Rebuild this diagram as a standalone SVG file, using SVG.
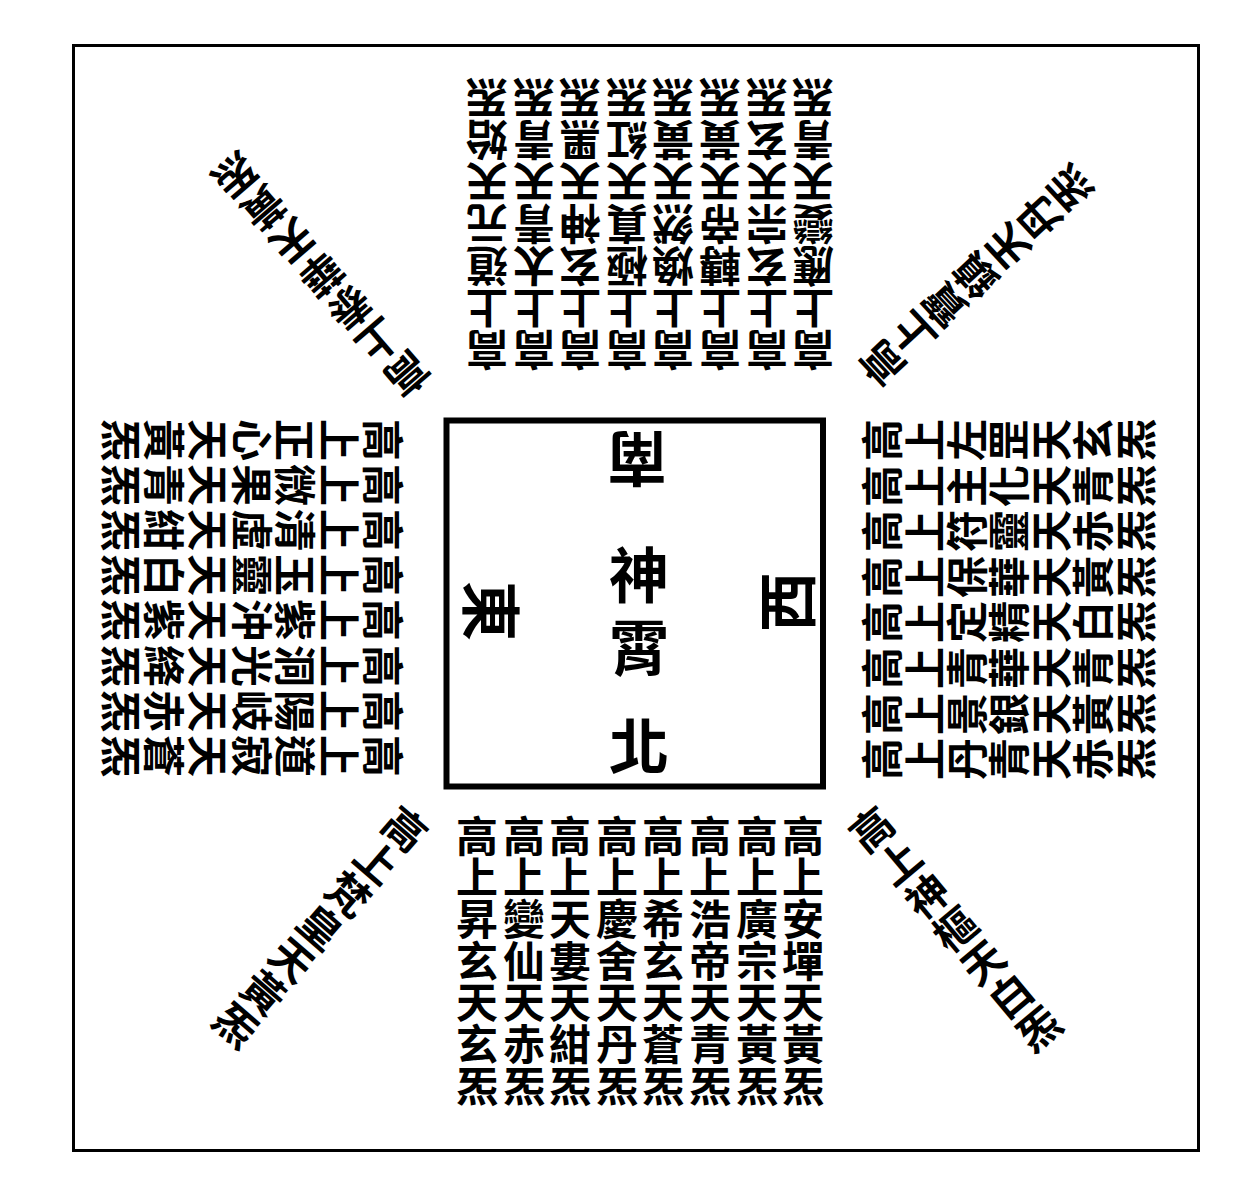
<svg xmlns="http://www.w3.org/2000/svg" width="1243" height="1200" viewBox="0 0 1243 1200">
<style>
.t{font-family:"Noto Sans CJK TC","Noto Sans CJK SC","Noto Sans CJK JP",sans-serif;font-weight:700;font-size:42px;text-anchor:middle;dominant-baseline:central;fill:#000}
.big{font-size:60px}
.frame{fill:none;stroke:#000}
</style>
<rect width="1243" height="1200" fill="#fff"/>
<g id="outer-frame"><rect class="frame" x="73.5" y="45.5" width="1125" height="1105" stroke-width="3"/></g>
<g id="center">
<rect class="frame" x="446.5" y="420.5" width="376.5" height="366" stroke-width="6"/>
<g id="shenxiao" transform="translate(639,607)"><text class="t big" x="0 0" y="-36 36">神霄</text></g>
<g transform="translate(639,742)"><text class="t big" x="0" y="0">北</text></g>
<g transform="translate(637,462) rotate(180)"><text class="t big" x="0" y="0">南</text></g>
<g transform="translate(494,611) rotate(90)"><text class="t big" x="0" y="0">東</text></g>
<g transform="translate(783,602) rotate(-90)"><text class="t big" x="0" y="0">西</text></g>
</g>
<g id="north">
<g id="n1" transform="translate(803,958)"><text class="t" x="0 0 0 0 0 0 0" y="-125 -83.4 -41.7 0 41.7 83.4 125">高上安墠天黃炁</text></g>
<g id="n2" transform="translate(757,958)"><text class="t" x="0 0 0 0 0 0 0" y="-125 -83.4 -41.7 0 41.7 83.4 125">高上廣宗天黃炁</text></g>
<g id="n3" transform="translate(710,958)"><text class="t" x="0 0 0 0 0 0 0" y="-125 -83.4 -41.7 0 41.7 83.4 125">高上浩帝天青炁</text></g>
<g id="n4" transform="translate(663,958)"><text class="t" x="0 0 0 0 0 0 0" y="-125 -83.4 -41.7 0 41.7 83.4 125">高上希玄天蒼炁</text></g>
<g id="n5" transform="translate(617,958)"><text class="t" x="0 0 0 0 0 0 0" y="-125 -83.4 -41.7 0 41.7 83.4 125">高上慶舍天丹炁</text></g>
<g id="n6" transform="translate(570,958)"><text class="t" x="0 0 0 0 0 0 0" y="-125 -83.4 -41.7 0 41.7 83.4 125">高上天婁天紺炁</text></g>
<g id="n7" transform="translate(524,958)"><text class="t" x="0 0 0 0 0 0 0" y="-125 -83.4 -41.7 0 41.7 83.4 125">高上變仙天赤炁</text></g>
<g id="n8" transform="translate(477,958)"><text class="t" x="0 0 0 0 0 0 0" y="-125 -83.4 -41.7 0 41.7 83.4 125">高上昇玄天玄炁</text></g>
</g>
<g id="south">
<g id="s1" transform="translate(487,226) rotate(180)"><text class="t" x="0 0 0 0 0 0 0" y="-126 -84 -42 0 42 84 126">高上道元天始炁</text></g>
<g id="s2" transform="translate(534,226) rotate(180)"><text class="t" x="0 0 0 0 0 0 0" y="-126 -84 -42 0 42 84 126">高上太青天青炁</text></g>
<g id="s3" transform="translate(580,226) rotate(180)"><text class="t" x="0 0 0 0 0 0 0" y="-126 -84 -42 0 42 84 126">高上玄神天黑炁</text></g>
<g id="s4" transform="translate(627,226) rotate(180)"><text class="t" x="0 0 0 0 0 0 0" y="-126 -84 -42 0 42 84 126">高上極真天紅炁</text></g>
<g id="s5" transform="translate(673,226) rotate(180)"><text class="t" x="0 0 0 0 0 0 0" y="-126 -84 -42 0 42 84 126">高上煥然天黃炁</text></g>
<g id="s6" transform="translate(720,226) rotate(180)"><text class="t" x="0 0 0 0 0 0 0" y="-126 -84 -42 0 42 84 126">高上轉帝天黃炁</text></g>
<g id="s7" transform="translate(767,226) rotate(180)"><text class="t" x="0 0 0 0 0 0 0" y="-126 -84 -42 0 42 84 126">高上玄宗天玄炁</text></g>
<g id="s8" transform="translate(813,226) rotate(180)"><text class="t" x="0 0 0 0 0 0 0" y="-126 -84 -42 0 42 84 126">高上應變天青炁</text></g>
</g>
<g id="east">
<g id="e1" transform="translate(254,440) rotate(90)"><text class="t" x="0 0 0 0 0 0 0" y="-131 -87.4 -43.7 0 43.7 87.4 131">高上正心天黃炁</text></g>
<g id="e2" transform="translate(254,485) rotate(90)"><text class="t" x="0 0 0 0 0 0 0" y="-131 -87.4 -43.7 0 43.7 87.4 131">高上微果天青炁</text></g>
<g id="e3" transform="translate(254,530) rotate(90)"><text class="t" x="0 0 0 0 0 0 0" y="-131 -87.4 -43.7 0 43.7 87.4 131">高上清虛天紺炁</text></g>
<g id="e4" transform="translate(254,575) rotate(90)"><text class="t" x="0 0 0 0 0 0 0" y="-131 -87.4 -43.7 0 43.7 87.4 131">高上玉靈天白炁</text></g>
<g id="e5" transform="translate(254,620) rotate(90)"><text class="t" x="0 0 0 0 0 0 0" y="-131 -87.4 -43.7 0 43.7 87.4 131">高上紫沖天紫炁</text></g>
<g id="e6" transform="translate(254,666) rotate(90)"><text class="t" x="0 0 0 0 0 0 0" y="-131 -87.4 -43.7 0 43.7 87.4 131">高上洞光天絳炁</text></g>
<g id="e7" transform="translate(254,711) rotate(90)"><text class="t" x="0 0 0 0 0 0 0" y="-131 -87.4 -43.7 0 43.7 87.4 131">高上陽岐天赤炁</text></g>
<g id="e8" transform="translate(254,756) rotate(90)"><text class="t" x="0 0 0 0 0 0 0" y="-131 -87.4 -43.7 0 43.7 87.4 131">高上道寂天蒼炁</text></g>
</g>
<g id="west">
<g id="w1" transform="translate(1006.5,440) rotate(-90)"><text class="t" x="0 0 0 0 0 0 0" y="-126.6 -84.4 -42.2 0 42.2 84.4 126.6">高上左罡天玄炁</text></g>
<g id="w2" transform="translate(1006.5,486) rotate(-90)"><text class="t" x="0 0 0 0 0 0 0" y="-126.6 -84.4 -42.2 0 42.2 84.4 126.6">高上主化天青炁</text></g>
<g id="w3" transform="translate(1006.5,531) rotate(-90)"><text class="t" x="0 0 0 0 0 0 0" y="-126.6 -84.4 -42.2 0 42.2 84.4 126.6">高上符靈天赤炁</text></g>
<g id="w4" transform="translate(1006.5,577) rotate(-90)"><text class="t" x="0 0 0 0 0 0 0" y="-126.6 -84.4 -42.2 0 42.2 84.4 126.6">高上保華天黃炁</text></g>
<g id="w5" transform="translate(1006.5,622) rotate(-90)"><text class="t" x="0 0 0 0 0 0 0" y="-126.6 -84.4 -42.2 0 42.2 84.4 126.6">高上定精天白炁</text></g>
<g id="w6" transform="translate(1006.5,668) rotate(-90)"><text class="t" x="0 0 0 0 0 0 0" y="-126.6 -84.4 -42.2 0 42.2 84.4 126.6">高上青華天青炁</text></g>
<g id="w7" transform="translate(1006.5,714) rotate(-90)"><text class="t" x="0 0 0 0 0 0 0" y="-126.6 -84.4 -42.2 0 42.2 84.4 126.6">高上景銀天黃炁</text></g>
<g id="w8" transform="translate(1006.5,759) rotate(-90)"><text class="t" x="0 0 0 0 0 0 0" y="-126.6 -84.4 -42.2 0 42.2 84.4 126.6">高上丹青天赤炁</text></g>
</g>
<g id="diagonals">
<g id="d-tl" transform="translate(323,276.5) rotate(139.2)"><text class="t" x="0 0 0 0 0 0 0" y="-131.4 -87.6 -43.8 0 43.8 87.6 131.4">高上泰華天黃炁</text></g>
<g id="d-tr" transform="translate(974,277.5) rotate(227)"><text class="t" x="0 0 0 0 0 0 0" y="-128.4 -85.6 -42.8 0 42.8 85.6 128.4">高上寶鎮天丹炁</text></g>
<g id="d-bl" transform="translate(322,925) rotate(40.9)"><text class="t" x="0 0 0 0 0 0 0" y="-129.6 -86.4 -43.2 0 43.2 86.4 129.6">高上梵皇天黃炁</text></g>
<g id="d-br" transform="translate(953.5,927) rotate(-39.9)"><text class="t" x="0 0 0 0 0 0 0" y="-130.2 -86.8 -43.4 0 43.4 86.8 130.2">高上神樞天白炁</text></g>
</g>
<g id="connectors"/>
</svg>
